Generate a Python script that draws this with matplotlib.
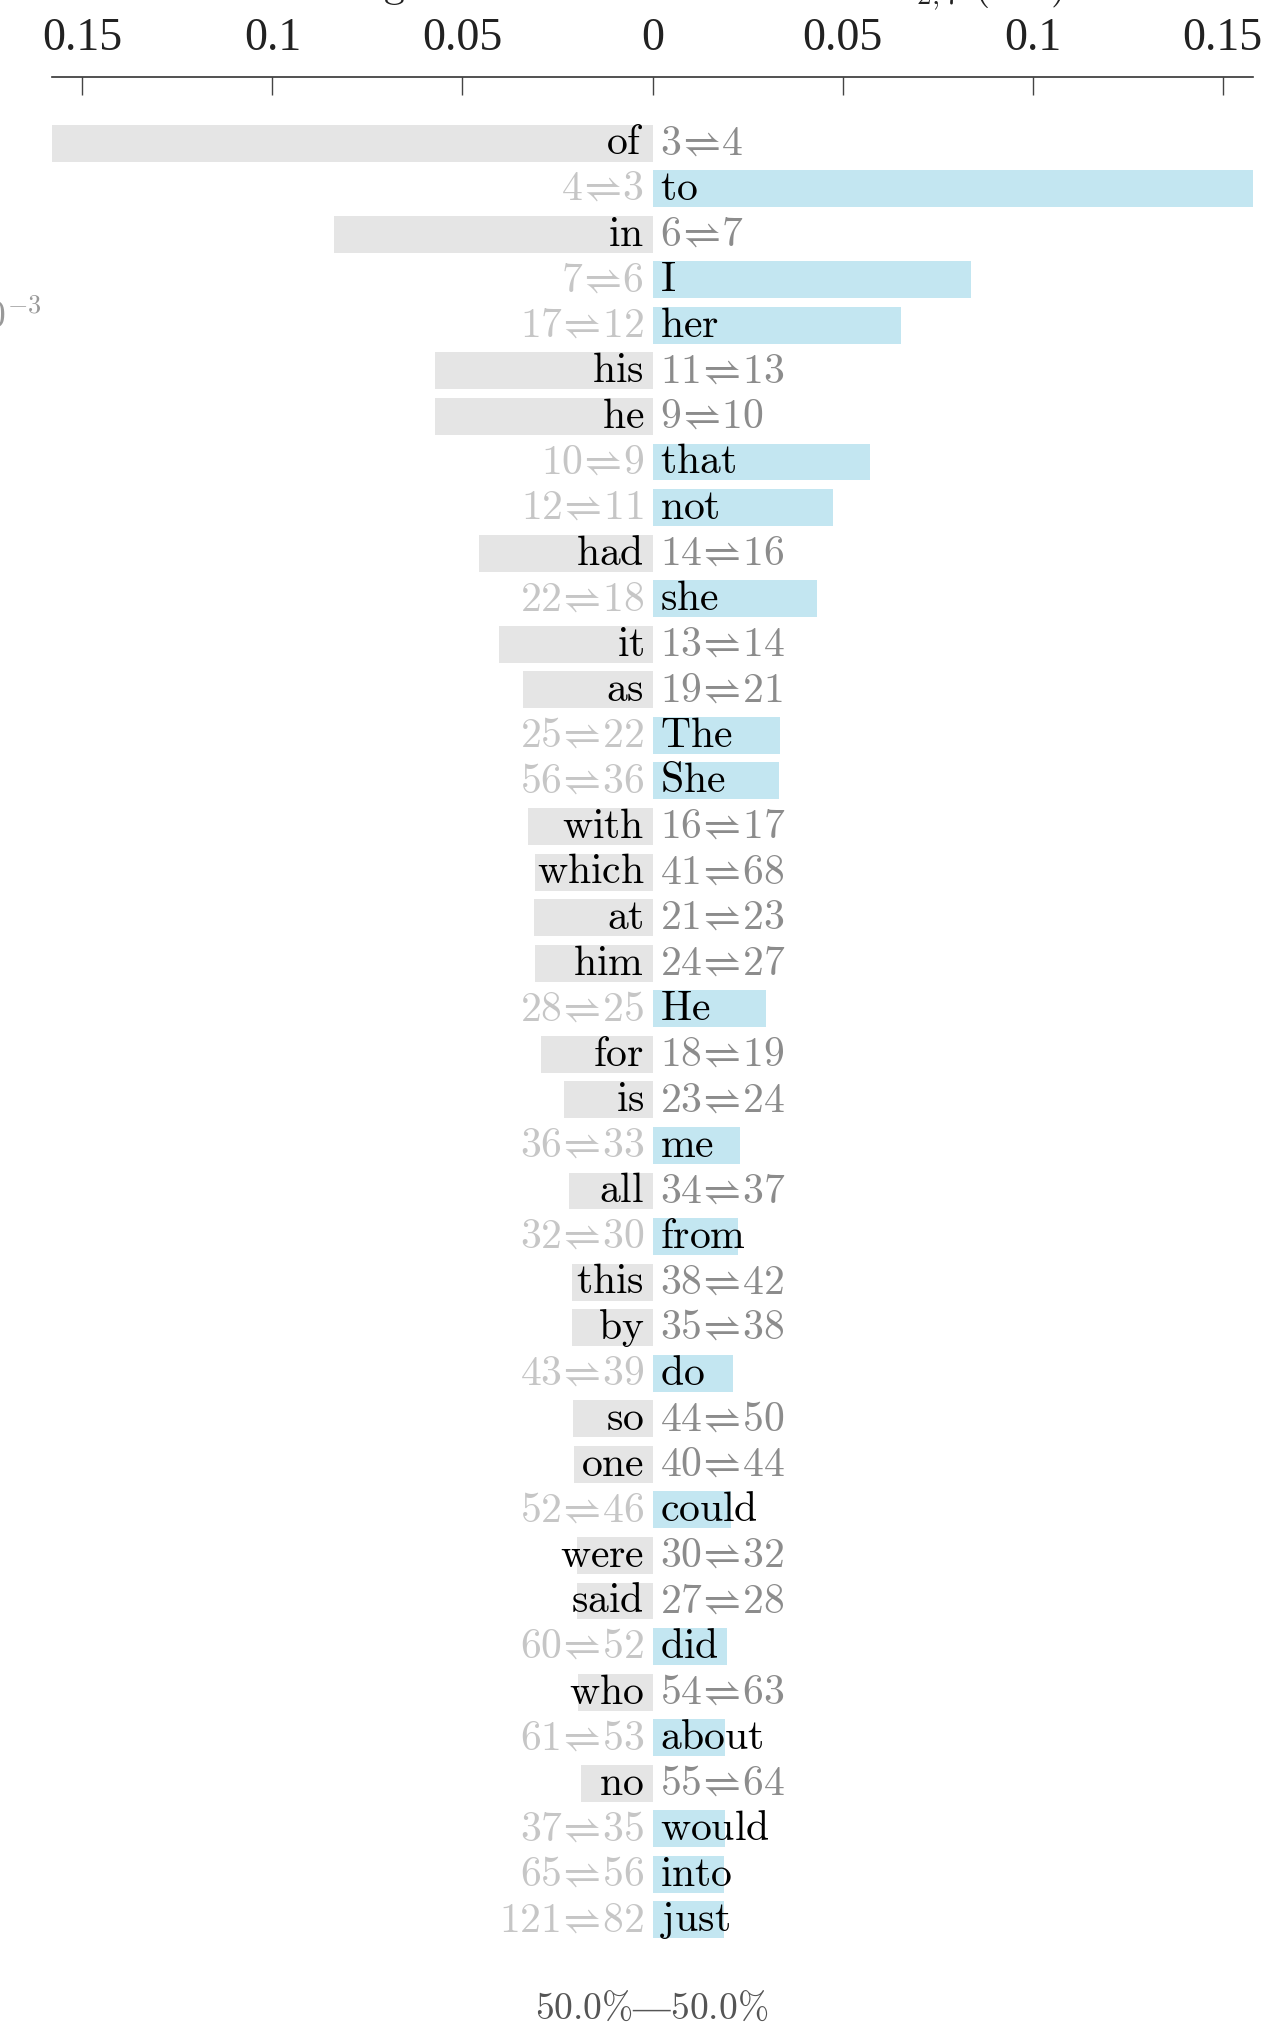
import matplotlib
matplotlib.use("Agg")
import matplotlib.pyplot as plt
from matplotlib.ticker import FuncFormatter

plt.rcParams['font.family'] = ['Liberation Serif', 'DejaVu Serif']
plt.rcParams['mathtext.fontset'] = 'cm'

# word, which side the bar goes, bar length, rank before/after
words = ["of", "to", "in", "I", "her", "his", "he", "that", "not", "had",
         "she", "it", "as", "The", "She", "with", "which", "at", "him", "He",
         "for", "is", "me", "all", "from", "this", "by", "do", "so", "one",
         "could", "were", "said", "did", "who", "about", "no", "would", "into", "just"]
sides = ["L", "R", "L", "R", "R", "L", "L", "R", "R", "L",
         "R", "L", "L", "R", "R", "L", "L", "L", "L", "R",
         "L", "L", "R", "L", "R", "L", "L", "R", "L", "L",
         "R", "L", "L", "R", "L", "R", "L", "R", "R", "R"]
values = [0.158, 0.158, 0.0838, 0.0838, 0.0655, 0.0573, 0.0573, 0.0573, 0.0474, 0.0457,
          0.0434, 0.0403, 0.0342, 0.0335, 0.0332, 0.0328, 0.0308, 0.0311, 0.0308, 0.0298,
          0.0294, 0.0233, 0.0230, 0.0219, 0.0226, 0.0213, 0.0213, 0.0213, 0.0209, 0.0206,
          0.0206, 0.0199, 0.0199, 0.0196, 0.0196, 0.0192, 0.0189, 0.0192, 0.0189, 0.0189]
rank_a = [3, 4, 6, 7, 17, 11, 9, 10, 12, 14,
          22, 13, 19, 25, 56, 16, 41, 21, 24, 28,
          18, 23, 36, 34, 32, 38, 35, 43, 44, 40,
          52, 30, 27, 60, 54, 61, 55, 37, 65, 121]
rank_b = [4, 3, 7, 6, 12, 13, 10, 9, 11, 16,
          18, 14, 21, 22, 36, 17, 68, 23, 27, 25,
          19, 24, 33, 37, 30, 42, 38, 39, 50, 44,
          46, 32, 28, 52, 63, 53, 64, 35, 56, 82]
share_left = 50.0
share_right = 50.0

GRAY_BAR = "#e5e5e5"
BLUE_BAR = "#c3e6f1"
W, H = 1263, 2037
TOP, BOTTOM = 77, 1960

fig = plt.figure(figsize=(W / 100, H / 100), dpi=100)
ax = fig.add_axes([52 / W, 1 - BOTTOM / H, (1253 - 52) / W, (BOTTOM - TOP) / H])

n = len(words)
for i in range(n):
    left = sides[i] == "L"
    ax.barh(i, -values[i] if left else values[i], height=0.81,
            color=GRAY_BAR if left else BLUE_BAR, linewidth=0)
    # \! cancels most of the relation spacing so the arrow sits tight
    rank = rf"${rank_a[i]}\!\rightleftharpoons\!{rank_b[i]}$"
    word = rf"$\mathrm{{{words[i]}}}$"
    y = i + 0.25
    if left:
        ax.annotate(word, xy=(0, y), xytext=(-6, 0), textcoords="offset points",
                    ha="right", va="baseline", fontsize=30, color="black")
        ax.annotate(rank, xy=(0, y), xytext=(5.5, 0), textcoords="offset points",
                    ha="left", va="baseline", fontsize=30, color="#8c8c8c")
    else:
        ax.annotate(word, xy=(0, y), xytext=(5.5, 0), textcoords="offset points",
                    ha="left", va="baseline", fontsize=30, color="black")
        ax.annotate(rank, xy=(0, y), xytext=(-6, 0), textcoords="offset points",
                    ha="right", va="baseline", fontsize=30, color="#c6c6c6")

ax.set_xlim(-0.158, 0.158)
ax.set_ylim(n - 1 + (BOTTOM - 1920) / 45.5, -(143 - TOP) / 45.5)
ax.set_xticks([-0.15, -0.1, -0.05, 0, 0.05, 0.1, 0.15])
ax.xaxis.set_major_formatter(FuncFormatter(lambda v, p: f"{abs(v):g}"))
ax.xaxis.tick_top()
ax.tick_params(axis="x", direction="in", length=13, width=1.0, color="#444444",
               pad=12, labelsize=33, labelcolor="#222222")
ax.set_yticks([])
for s in ["left", "right", "bottom"]:
    ax.spines[s].set_visible(False)
ax.spines["top"].set_color("#333333")
ax.spines["top"].set_linewidth(1.2)

# split of the two groups under the bars
fig.text(652 / W, 1 - 2010 / H, rf"${share_left:.1f}\%$—${share_right:.1f}\%$",
         ha="center", va="center", fontsize=27, color="#555555")

# pieces of neighbouring labels running in from outside
fig.text(42 / W, 1 - 328 / H, r"$\times10^{-3}$", ha="right", va="baseline",
         fontsize=27, color="#999999")
fig.text(405 / W, 1 + 3 / H, r"$\mathrm{Ranking}$", ha="right", va="baseline",
         fontsize=30, color="#222222")
fig.text(880 / W, 1 + 3 / H, r"$\Delta_{2,7}\ (\mathrm{nat})$", ha="left", va="baseline",
         fontsize=30, color="#222222")

fig.savefig("out.png", dpi=100)
